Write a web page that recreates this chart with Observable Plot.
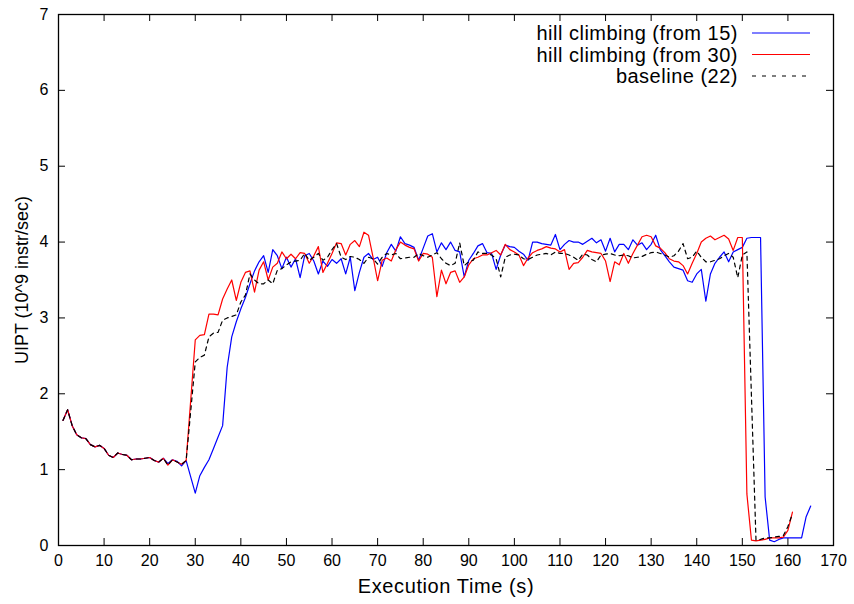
<!DOCTYPE html>
<html><head><meta charset="utf-8">
<script src="https://cdn.jsdelivr.net/npm/d3@7"></script>
<script src="https://cdn.jsdelivr.net/npm/@observablehq/plot@0.6"></script>
<style>body{margin:0;background:#fff} #chart{width:854px;height:604px}</style>
</head><body><div id="chart"></div>
<script>
const startSec = 1;
const xTicks = [0,10,20,30,40,50,60,70,80,90,100,110,120,130,140,150,160,170];
const yTicks = [0,1,2,3,4,5,6,7];
const seriesNames = ["hill climbing (from 15)", "hill climbing (from 30)", "baseline (22)"];
const seriesColors = ["#0000ff", "#ff0000", "#000000"];
const xLabel = "Execution Time (s)";
const yLabel = "UIPT (10^9 instr/sec)";

// hill climbing (from 15): one value per second starting at t=1 (null = no sample)
const hillFrom15 = [
1.65,1.79,1.58,1.46,1.42,1.41,1.33,1.30,1.32,1.28,
1.19,1.16,1.22,1.20,1.19,1.13,1.14,1.14,1.15,1.16,
1.12,1.10,1.15,1.08,1.13,1.11,1.05,1.12,null,0.69,
0.92,1.03,1.13,1.28,1.43,1.58,2.35,2.75,2.95,3.12,
3.27,3.45,3.62,3.74,3.82,3.60,3.90,3.82,3.65,3.80,
3.67,3.78,3.53,3.82,3.85,3.75,3.58,3.75,3.68,3.77,
3.72,3.78,3.58,3.80,3.36,3.60,3.80,3.85,3.77,3.80,
3.68,3.86,3.97,3.88,4.07,3.98,3.96,3.93,3.76,3.92,
4.08,4.11,3.87,3.99,3.90,4.00,3.89,3.87,3.54,3.76,
3.85,3.95,3.98,3.86,3.85,3.64,3.83,3.96,3.94,3.93,
3.88,3.84,3.76,4.00,4.00,3.98,3.97,3.96,4.10,3.90,
3.97,4.02,4.00,4.00,3.97,4.01,4.05,3.99,4.03,3.88,
4.05,3.87,3.97,3.97,3.90,4.03,3.96,3.99,3.90,3.97,
4.09,3.90,3.82,3.74,3.67,3.65,3.63,3.49,3.47,3.58,
3.64,3.22,3.58,3.72,3.80,3.87,3.74,3.87,3.90,3.93,
4.05,4.06,4.06,4.06,0.64,0.07,0.05,0.08,0.10,0.10,
0.10,0.10,0.10,0.38,0.52
];

// hill climbing (from 30)
const hillFrom30 = [
1.65,1.79,1.58,1.46,1.42,1.41,1.33,1.30,1.32,1.28,
1.19,1.16,1.22,1.20,1.19,1.13,1.14,1.14,1.15,1.16,
1.12,1.10,1.15,1.06,1.13,1.10,1.07,1.12,null,2.71,
2.77,2.78,3.05,3.05,3.04,3.25,3.38,3.50,3.23,3.47,
3.60,3.62,3.34,3.63,3.74,3.50,3.67,3.72,3.87,3.78,
3.84,3.78,3.86,3.85,3.72,3.82,3.94,3.60,3.72,3.85,
3.99,3.98,3.83,3.97,4.02,3.94,4.13,4.09,3.80,3.49,
3.76,3.79,3.75,3.90,4.00,3.96,3.93,3.91,3.75,3.85,
3.84,3.80,3.28,3.63,3.45,3.60,3.62,3.47,3.54,3.70,
3.78,3.80,3.83,3.83,3.86,3.89,3.83,3.97,3.90,3.87,
3.83,3.69,3.79,3.86,3.89,3.91,3.94,3.92,3.91,3.87,
3.90,3.64,3.72,3.73,3.80,3.89,3.87,3.86,3.85,3.75,
3.48,3.74,3.70,3.85,3.72,3.85,3.96,4.07,4.09,4.07,
3.95,3.92,3.86,3.78,3.75,3.74,3.69,3.58,3.72,3.85,
4.00,4.05,4.08,4.03,4.06,4.09,4.04,3.89,4.06,4.06,
0.68,0.07,0.06,0.07,0.08,0.10,0.10,0.10,0.11,0.20,
0.44
];

// baseline (22)
const baseline22 = [
1.65,1.79,1.58,1.46,1.42,1.41,1.33,1.30,1.32,1.28,
1.19,1.16,1.22,1.20,1.19,1.13,1.14,1.14,1.15,1.16,
1.12,1.10,1.15,1.06,1.13,1.10,1.07,1.12,null,2.42,
2.48,2.51,2.75,2.80,2.81,2.97,3.00,3.02,3.04,3.21,
3.30,3.58,3.50,3.45,3.45,3.50,3.45,3.63,3.65,3.70,
3.74,3.75,3.76,3.85,3.76,3.80,3.85,3.76,3.80,3.90,
3.98,3.80,3.77,3.81,3.80,3.77,3.72,3.80,3.78,3.71,
3.80,3.85,3.83,3.85,3.78,3.79,3.80,3.80,3.85,3.82,
3.80,3.83,3.86,3.78,3.72,3.69,3.72,3.99,3.69,3.74,
3.76,3.87,3.85,3.85,3.83,3.78,3.54,3.80,3.83,3.84,
3.83,3.78,3.77,3.80,3.83,3.84,3.85,3.83,3.87,3.85,
3.85,3.83,3.80,3.76,3.84,3.83,3.77,3.74,3.83,3.84,
3.85,3.83,3.82,3.83,3.82,3.79,3.80,3.81,3.84,3.86,
3.87,3.85,3.83,3.80,3.82,3.88,3.98,3.78,3.80,3.88,
3.80,3.74,3.74,3.76,3.78,3.82,3.85,3.80,3.53,3.83,
3.87,null,0.07,0.08,0.10,0.10,0.11,0.12,0.13,0.25,
0.42
];

const rows = (vals) => vals.map((v, i) => ({t: startSec + i, v})).filter(d => d.v != null);

const W = 854, H = 604, mL = 58, mR = 21, mT = 14, mB = 59;
const pw = W - mL - mR, ph = H - mT - mB;
const font = "'Liberation Sans', Arial, Helvetica, sans-serif";

const chart = Plot.plot({
  width: W, height: H,
  marginLeft: mL, marginRight: mR, marginTop: mT, marginBottom: mB,
  style: {fontFamily: font, background: "#fff", color: "#000"},
  x: {domain: [0, 170]},
  y: {domain: [0, 7]},
  marks: [
    Plot.axisX(xTicks, {anchor: "bottom", tickSize: 0, tickPadding: 9, fontSize: 16, tickFormat: d3.format("d"), label: null}),
    Plot.axisY(yTicks, {anchor: "left", tickSize: 0, tickPadding: 10, fontSize: 16, tickFormat: d3.format("d"), label: null}),
    Plot.tickX(xTicks, {x: d => d, insetTop: ph - 7, stroke: "#000"}),
    Plot.tickX(xTicks, {x: d => d, insetBottom: ph - 7, stroke: "#000"}),
    Plot.tickY(yTicks, {y: d => d, insetRight: pw - 7, stroke: "#000"}),
    Plot.tickY(yTicks, {y: d => d, insetLeft: pw - 7, stroke: "#000"}),
    Plot.line(rows(hillFrom15), {x: "t", y: "v", stroke: seriesColors[0], strokeWidth: 1.2}),
    Plot.line(rows(hillFrom30), {x: "t", y: "v", stroke: seriesColors[1], strokeWidth: 1.2}),
    Plot.line(rows(baseline22), {x: "t", y: "v", stroke: seriesColors[2], strokeWidth: 1.2, strokeDasharray: "4,4"}),
    Plot.frame({stroke: "#000", strokeWidth: 1.3}),
    Plot.text([xLabel], {text: d => d, frameAnchor: "bottom", textAnchor: "middle", lineAnchor: "middle", dy: 41, fontSize: 20, className: "xlab"}),
    Plot.text([yLabel], {text: d => d, frameAnchor: "left", textAnchor: "middle", lineAnchor: "middle", dx: -36, rotate: -90, fontSize: 18})
  ]
});

// legend (top-right, inside the frame)
const svg = d3.select(chart);
const lg = svg.append("g").attr("font-family", font).attr("font-size", 20)
  .style("letter-spacing", "0.5px");
seriesNames.forEach((name, i) => {
  const y = 33 + i * 21.5;
  lg.append("text").attr("x", 738).attr("y", y).attr("dy", "0.35em")
    .attr("text-anchor", "end").attr("fill", "#000").text(name);
  lg.append("line").attr("x1", 752).attr("x2", 810).attr("y1", y).attr("y2", y)
    .attr("stroke", seriesColors[i]).attr("stroke-width", 1.2)
    .attr("stroke-dasharray", i === 2 ? "4,6" : null);
});
svg.selectAll(".xlab text").style("letter-spacing", "0.6px");

document.getElementById("chart").appendChild(chart);
</script>
</body></html>
